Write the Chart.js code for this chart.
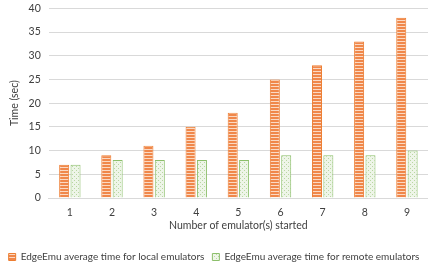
<!DOCTYPE html>
<html>
<head>
<meta charset="utf-8">
<title>EdgeEmu start time</title>
<script src="https://cdn.jsdelivr.net/npm/chart.js@4/dist/chart.umd.min.js"></script>
<style>
  html, body { margin: 0; padding: 0; background: #fff; overflow: hidden; }
  #wrap { width: 428px; height: 278px; margin-top: -6px; }
</style>
</head>
<body>
<div id="wrap"><canvas id="chart"></canvas></div>
<script>
// data
const categories = ['1', '2', '3', '4', '5', '6', '7', '8', '9'];
const localTimes = [7, 9, 11, 15, 18, 25, 28, 33, 38];
const remoteTimes = [7, 8, 8, 8, 8, 9, 9, 9, 10];
const seriesNames = ['EdgeEmu average time for local emulators', 'EdgeEmu average time for remote emulators'];

function stripes() {
  const c = document.createElement('canvas');
  c.width = 4; c.height = 3;
  const g = c.getContext('2d');
  g.fillStyle = '#fbd9c3';
  g.fillRect(0, 0, 4, 3);
  g.fillStyle = '#f0874a';
  g.fillRect(0, 0, 4, 2);
  return g.createPattern(c, 'repeat');
}

function dots() {
  const c = document.createElement('canvas');
  c.width = 4; c.height = 4;
  const g = c.getContext('2d');
  g.fillStyle = '#eef5e8';
  g.fillRect(0, 0, 4, 4);
  g.fillStyle = '#b9d7a2';
  g.fillRect(0, 0, 1, 1);
  g.fillRect(2, 2, 1, 1);
  return g.createPattern(c, 'repeat');
}

const font = "Lato, sans-serif";
const txt = '#404040';

new Chart(document.getElementById('chart'), {
  type: 'bar',
  data: {
    labels: categories,
    datasets: [{
      label: seriesNames[0],
      data: localTimes,
      backgroundColor: stripes(),
      borderColor: '#ed7d31',
      borderWidth: 1
    }, {
      label: seriesNames[1],
      data: remoteTimes,
      backgroundColor: dots(),
      borderColor: '#8cbf6b',
      borderWidth: 1
    }]
  },
  options: {
    responsive: true,
    maintainAspectRatio: false,
    animation: false,
    devicePixelRatio: 1,
    categoryPercentage: 0.54,
    barPercentage: 0.88,
    layout: { padding: { left: 0, right: 0, top: 0, bottom: 0 } },
    scales: {
      x: {
        grid: { display: false },
        border: { color: '#d9d9d9' },
        ticks: { color: txt, font: { family: font, size: 10.5, lineHeight: 1 }, padding: 1 },
        title: { display: true, text: 'Number of emulator(s) started', color: txt, font: { family: font, size: 10.5, lineHeight: 1 }, padding: { top: 2, bottom: 13 } }
      },
      y: {
        min: 0, max: 40,
        ticks: { stepSize: 5, color: txt, font: { family: font, size: 10.5 }, padding: 8 },
        grid: { color: '#d9d9d9', drawTicks: false },
        border: { display: false },
        title: { display: true, text: 'Time (sec)', color: txt, font: { family: font, size: 10.5 }, padding: { top: 8, bottom: 0 } }
      }
    },
    plugins: {
      legend: {
        position: 'bottom',
        labels: { color: txt, font: { family: font, size: 10 }, boxWidth: 7, boxHeight: 7, padding: 8 }
      },
      tooltip: { enabled: false }
    }
  }
});
</script>
</body>
</html>
